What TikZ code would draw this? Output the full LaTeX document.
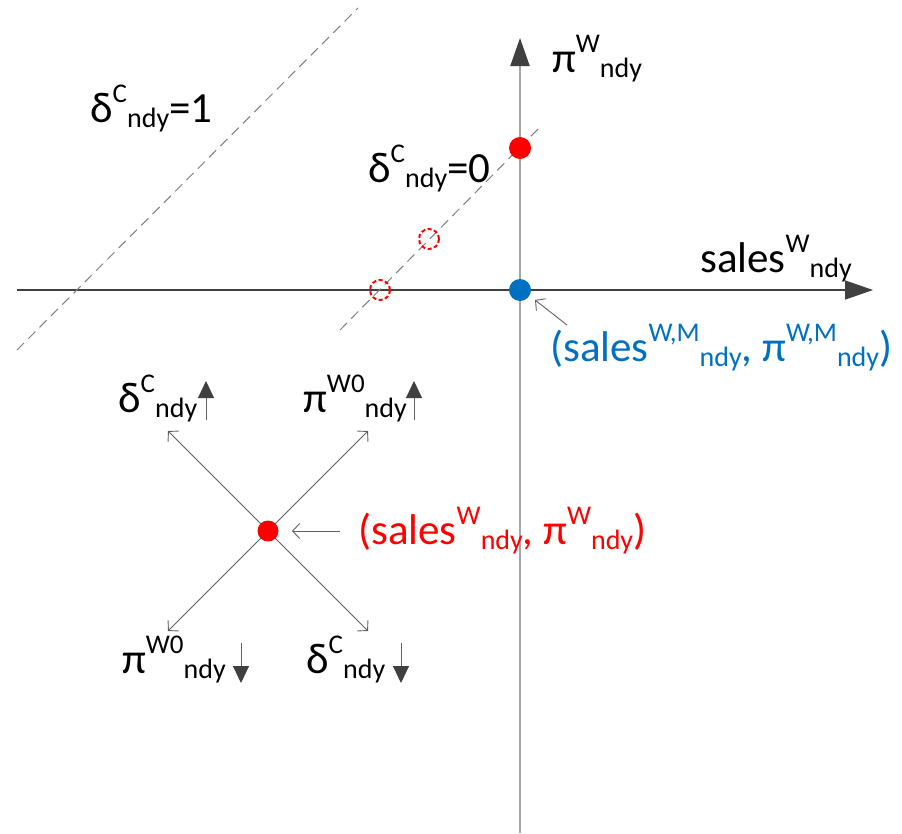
\documentclass[tikz,border=0pt]{standalone}
\usepackage{fontspec}
\setmainfont{Carlito}
\usetikzlibrary{arrows.meta}
\definecolor{axdark}{HTML}{404040}
\definecolor{axlight}{HTML}{A6A6A6}
\definecolor{dashgray}{HTML}{7F7F7F}
\definecolor{thinarr}{HTML}{606060}
\definecolor{myred}{HTML}{FF0000}
\definecolor{myblue}{HTML}{0070C0}
\newcommand\msup[1]{\raisebox{20pt}{\fontsize{27}{27}\selectfont #1}}
\newcommand\msub[1]{\raisebox{-5pt}{\fontsize{28}{28}\selectfont #1}}
\tikzset{
  lbl/.style={inner sep=0pt, anchor=base west, font=\fontsize{43}{50}\selectfont},
  axisline/.style={line width=1.5pt, draw=axdark, -{Triangle[length=28pt,width=19pt]}, color=axdark},
  vaxis/.style={line width=2pt, draw=axlight, -{Triangle[length=28pt,width=19pt,fill=axdark,color=axdark]}},
  dashline/.style={draw=dashgray, line width=1pt, dash pattern=on 10pt off 6pt},
  dotnode/.style={circle, inner sep=0pt, minimum size=22pt},
  emptydot/.style={circle, inner sep=0pt, minimum size=20pt, draw=myred, line width=2pt, dash pattern=on 4pt off 2.5pt},
  thinarrow/.style={draw=thinarr, line width=0.9pt, -{Straight Barb[length=7pt,width=15pt,line width=0.9pt]}},
  smallarrow/.style={draw=thinarr, line width=1pt, -{Triangle[length=17pt,width=16pt,fill=axdark,color=axdark]}},
}
\begin{document}
\begin{tikzpicture}[x=1pt,y=-1pt]
\useasboundingbox (0,0) rectangle (902,833);
% axes
\coordinate (hs) at (17,290);
\coordinate (he) at (873,290);
\coordinate (vs) at (520,833);
\coordinate (ve) at (520,38);
\draw[axisline] (hs) -- (he);
\draw[vaxis] (vs) -- (ve);
% dashed lines
\coordinate (d1a) at (17,350);
\coordinate (d1b) at (358,8);
\coordinate (d0a) at (340,330);
\coordinate (d0b) at (540,127);
\draw[dashline] (d1a) -- (d1b);
\draw[dashline] (d0a) -- (d0b);
% dots
\node[dotnode, fill=myred] (rtop) at (520,148) {};
\node[dotnode, fill=myblue] (bdot) at (520,290) {};
\node[emptydot] (e1) at (380,290) {};
\node[emptydot] (e2) at (429,239) {};
% cross
\coordinate (ul) at (168,431);
\coordinate (ur) at (368,431);
\coordinate (ll) at (168,631);
\coordinate (lr) at (368,631);
\node[dotnode, minimum size=21pt] (rdot) at (268,531) {};
\draw[thinarrow] (rdot.center) -- (ul);
\draw[thinarrow] (rdot.center) -- (ur);
\draw[thinarrow] (rdot.center) -- (ll);
\draw[thinarrow] (rdot.center) -- (lr);
\fill[myred] (rdot.center) circle (10.5pt);
% pointer arrows
\coordinate (rat) at (340,531);
\coordinate (rae) at (292,531);
\draw[thinarrow] (rat) -- (rae);
\coordinate (bat) at (567,325);
\coordinate (bae) at (535,300);
\draw[thinarrow] (bat) -- (bae);
% labels
\node[lbl] (l1) at (90,122) {δ\msup{C}\msub{ndy}=1};
\node[lbl] (l0) at (368,182) {δ\msup{C}\msub{ndy}=0};
\node[lbl] (lpi) at (552,72) {π\msup{W}\msub{ndy}};
\node[lbl] (lsales) at (700,272) {sales\msup{W}\msub{ndy}};
\node[lbl, text=myblue] (lblue) at (550,361) {(sales\msup{W,M}\msub{ndy}, π\msup{W,M}\msub{ndy})};
\node[lbl, text=myred] (lred) at (358,544) {(sales\msup{W}\msub{ndy}, π\msup{W}\msub{ndy})};
\node[lbl] (ldu) at (118,412) {δ\msup{C}\msub{ndy}};
\node[lbl] (lpu) at (303,412) {π\msup{W0}\msub{ndy}};
\node[lbl] (lpd) at (122,673) {π\msup{W0}\msub{ndy}};
\node[lbl] (ldd) at (306,673) {δ\msup{C}\msub{ndy}};
% small arrows
\coordinate (a1s) at (206,420); \coordinate (a1e) at (206,381);
\coordinate (a2s) at (414,420); \coordinate (a2e) at (414,381);
\coordinate (a3s) at (241,643); \coordinate (a3e) at (241,683);
\coordinate (a4s) at (401,643); \coordinate (a4e) at (401,683);
\draw[smallarrow] (a1s) -- (a1e);
\draw[smallarrow] (a2s) -- (a2e);
\draw[smallarrow] (a3s) -- (a3e);
\draw[smallarrow] (a4s) -- (a4e);
\end{tikzpicture}
\end{document}
